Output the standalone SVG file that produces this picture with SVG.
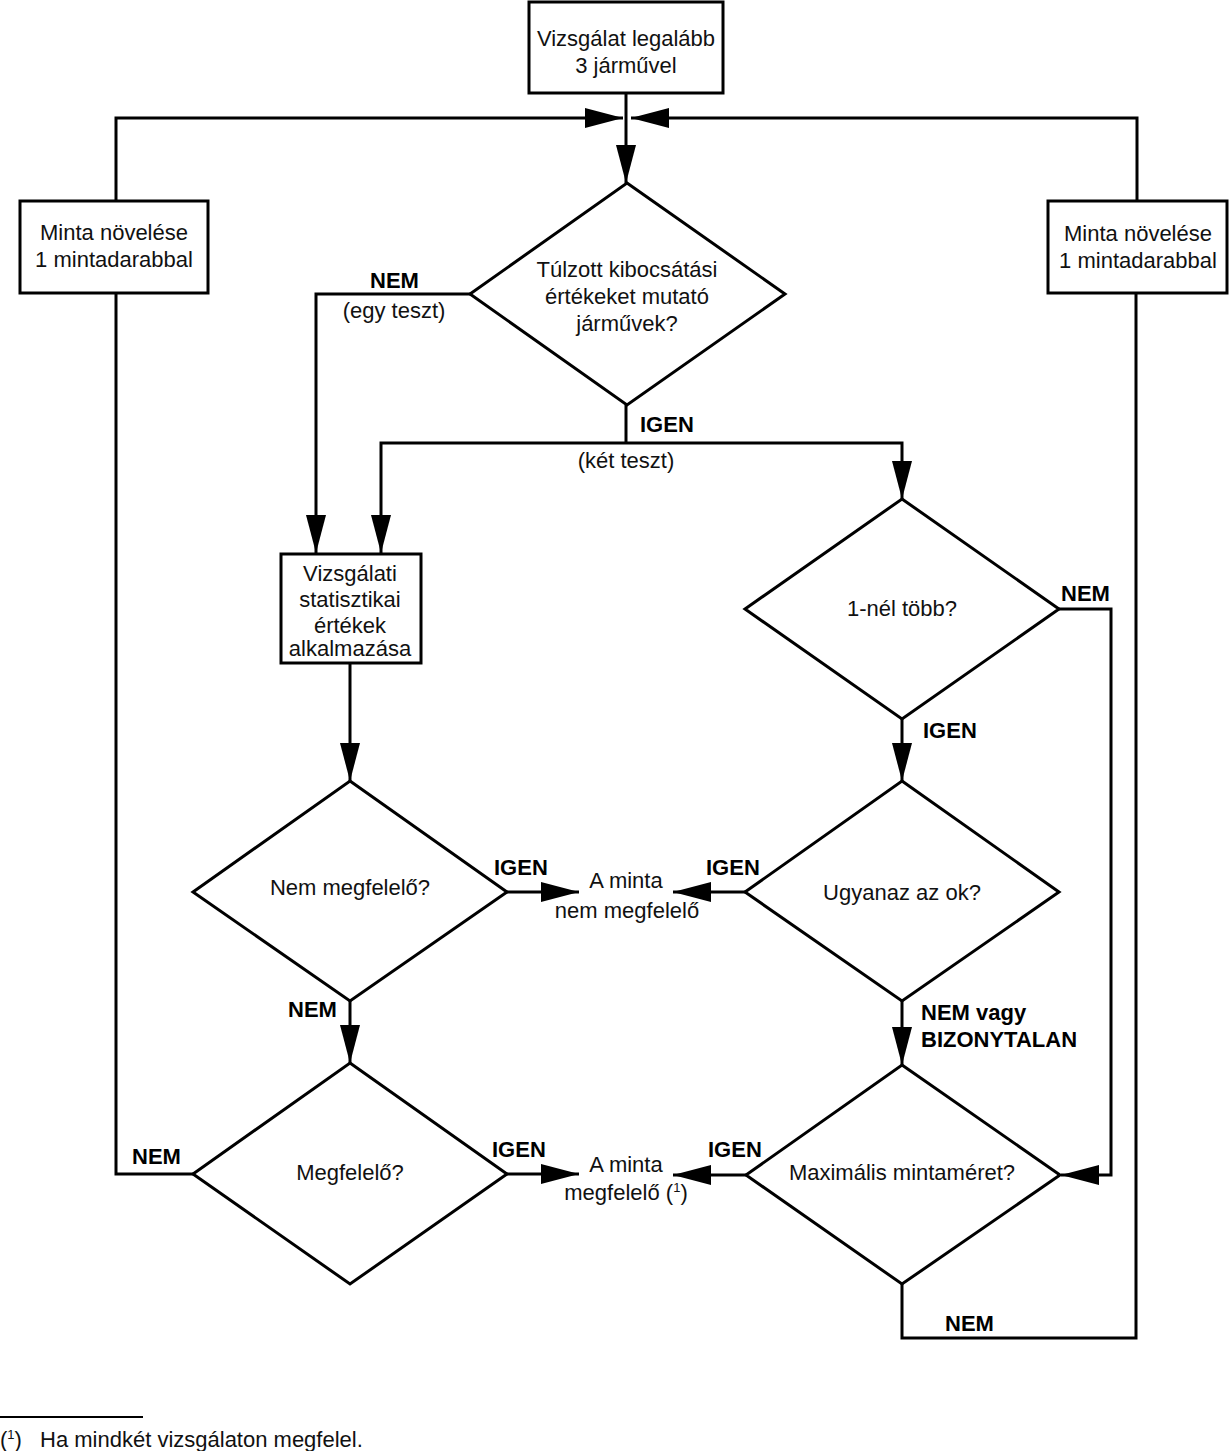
<svg xmlns="http://www.w3.org/2000/svg" width="1229" height="1451" viewBox="0 0 1229 1451">
<defs>
<marker id="arr" viewBox="0 0 38 20" refX="38" refY="10" markerWidth="38" markerHeight="20" markerUnits="userSpaceOnUse" orient="auto">
<path d="M0,0 L38,10 L0,20 Z" fill="#000"/>
</marker>
<style>
.box{fill:#fff;stroke:#000;stroke-width:3}
.dia{fill:#fff;stroke:#000;stroke-width:3}
.ln{fill:none;stroke:#000;stroke-width:3}
.t{font-family:"Liberation Sans",Arial,sans-serif;font-size:22px;fill:#111;text-anchor:middle}
.b{font-family:"Liberation Sans",Arial,sans-serif;font-size:22px;font-weight:bold;fill:#000}
.f{font-family:"Liberation Sans",Arial,sans-serif;font-size:22px;fill:#111}
</style>
</defs>
<rect width="1229" height="1451" fill="#fff"/>

<g id="connectors">
<path class="ln" d="M626,93 V183" marker-end="url(#arr)"/>
<path class="ln" d="M116,201 V118 H623" marker-end="url(#arr)"/>
<path class="ln" d="M1137,201 V118 H631" marker-end="url(#arr)"/>
<path class="ln" d="M193,1174 H116 V293"/>
<path class="ln" d="M470,294 H316 V553" marker-end="url(#arr)"/>
<path class="ln" d="M626,405 V443"/>
<path class="ln" d="M626,443 H381 V553" marker-end="url(#arr)"/>
<path class="ln" d="M626,443 H902 V499" marker-end="url(#arr)"/>
<path class="ln" d="M350,663 V781" marker-end="url(#arr)"/>
<path class="ln" d="M1059,609 H1111 V1175 H1061" marker-end="url(#arr)"/>
<path class="ln" d="M902,719 V781" marker-end="url(#arr)"/>
<path class="ln" d="M507,892 H579" marker-end="url(#arr)"/>
<path class="ln" d="M745,892 H673" marker-end="url(#arr)"/>
<path class="ln" d="M350,1001 V1063" marker-end="url(#arr)"/>
<path class="ln" d="M902,1001 V1065" marker-end="url(#arr)"/>
<path class="ln" d="M507,1174 H579" marker-end="url(#arr)"/>
<path class="ln" d="M746,1175 H673" marker-end="url(#arr)"/>
<path class="ln" d="M902,1284 V1338 H1136 V293"/>
</g>

<g id="labels">
<text class="b" x="370" y="288">NEM</text>
<text class="t" x="394" y="318">(egy teszt)</text>
<text class="b" x="640" y="432">IGEN</text>
<text class="t" x="626" y="468">(két teszt)</text>
<text class="b" x="1061" y="601">NEM</text>
<text class="b" x="923" y="738">IGEN</text>
<text class="b" x="494" y="875">IGEN</text>
<text class="b" x="706" y="875">IGEN</text>
<text class="b" x="288" y="1017">NEM</text>
<text class="b" x="921" y="1020">NEM vagy</text>
<text class="b" x="921" y="1047">BIZONYTALAN</text>
<text class="b" x="132" y="1164">NEM</text>
<text class="b" x="492" y="1157">IGEN</text>
<text class="b" x="708" y="1157">IGEN</text>
<text class="b" x="945" y="1331">NEM</text>
</g>

<g id="n-start">
<rect class="box" x="529" y="2" width="194" height="91"/>
<text class="t" x="626" y="46">Vizsgálat legalább</text>
<text class="t" x="626" y="73">3 járművel</text>
</g>

<g id="n-inc-left">
<rect class="box" x="20" y="201" width="188" height="92"/>
<text class="t" x="114" y="240">Minta növelése</text>
<text class="t" x="114" y="267">1 mintadarabbal</text>
</g>

<g id="n-inc-right">
<rect class="box" x="1048" y="201" width="179" height="92"/>
<text class="t" x="1138" y="241">Minta növelése</text>
<text class="t" x="1138" y="268">1 mintadarabbal</text>
</g>

<g id="n-d1">
<polygon class="dia" points="627,183 785,294 627,405 470,294"/>
<text class="t" x="627" y="277">Túlzott kibocsátási</text>
<text class="t" x="627" y="304">értékeket mutató</text>
<text class="t" x="627" y="331">járművek?</text>
</g>

<g id="n-stat">
<rect class="box" x="281" y="554" width="140" height="109"/>
<text class="t" x="350" y="581">Vizsgálati</text>
<text class="t" x="350" y="607">statisztikai</text>
<text class="t" x="350" y="633">értékek</text>
<text class="t" x="350" y="656">alkalmazása</text>
</g>

<g id="n-d2">
<polygon class="dia" points="902,499 1059,609 902,719 745,609"/>
<text class="t" x="902" y="616">1-nél több?</text>
</g>

<g id="n-d3">
<polygon class="dia" points="350,781 507,892 350,1001 193,892"/>
<text class="t" x="350" y="895">Nem megfelelő?</text>
</g>

<g id="n-fail">
<text class="t" x="626" y="888">A minta</text>
<text class="t" x="627" y="918">nem megfelelő</text>
</g>

<g id="n-d4">
<polygon class="dia" points="902,781 1059,892 902,1001 745,892"/>
<text class="t" x="902" y="900">Ugyanaz az ok?</text>
</g>

<g id="n-d5">
<polygon class="dia" points="350,1063 507,1174 350,1284 193,1174"/>
<text class="t" x="350" y="1180">Megfelelő?</text>
</g>

<g id="n-pass">
<text class="t" x="626" y="1172">A minta</text>
<text class="t" x="626" y="1200">megfelelő (<tspan font-size="13" dy="-8">1</tspan><tspan dy="8">)</tspan></text>
</g>

<g id="n-d6">
<polygon class="dia" points="902,1065 1060,1175 902,1284 746,1175"/>
<text class="t" x="902" y="1180">Maximális mintaméret?</text>
</g>

<g id="footnote">
<line x1="0" y1="1417" x2="143" y2="1417" stroke="#000" stroke-width="2"/>
<text class="f" x="0" y="1447">(<tspan font-size="13" dy="-8">1</tspan><tspan dy="8">)</tspan></text>
<text class="f" x="40" y="1447">Ha mindkét vizsgálaton megfelel.</text>
</g>
</svg>
